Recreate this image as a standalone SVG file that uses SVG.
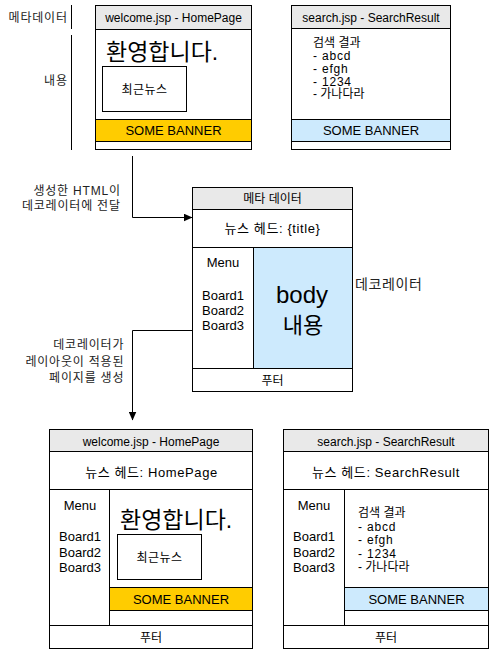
<svg xmlns="http://www.w3.org/2000/svg" width="491" height="654" viewBox="0 0 491 654">
<style>
text{font-family:"Liberation Sans","Noto Sans CJK KR",sans-serif;fill:#000;font-size:12px}
.c{text-anchor:middle}
.e{text-anchor:end}
.m{font-size:13px}
.big{font-size:23px}
.lbl{fill:#222}
.ks{letter-spacing:0.8px}
.nh{font-size:13px;letter-spacing:0.6px}
.box{fill:#fff;stroke:#000;stroke-width:1}
.hd{fill:#e9e9e9;stroke:#000;stroke-width:1}
.yb{fill:#ffcc00;stroke:#000;stroke-width:1}
.bb{fill:#cdeafd;stroke:#000;stroke-width:1}
.ln{stroke:#000;stroke-width:1;fill:none}
</style>
<defs>
<marker id="ah" markerWidth="9" markerHeight="8" refX="8.5" refY="4" orient="auto" markerUnits="userSpaceOnUse">
<path d="M0,0 L9,4 L0,8 Z" fill="#000"/>
</marker>
</defs>

<g id="labels-left">
<line class="ln" x1="71.5" y1="5" x2="71.5" y2="29"/>
<line class="ln" x1="71.5" y1="35" x2="71.5" y2="150"/>
<text class="e lbl ks" x="67.8" y="21.5">메타데이터</text>
<text class="e lbl ks" x="67.8" y="84.5">내용</text>
</g>

<g id="welcome-page">
<rect class="box" x="95.5" y="5.5" width="156" height="144"/>
<rect class="hd" x="95.5" y="5.5" width="156" height="24"/>
<rect class="yb" x="95.5" y="119.5" width="156" height="22"/>
<rect class="box" x="102.5" y="66.5" width="84" height="45"/>
<text class="c" x="173.5" y="21.5">welcome.jsp - HomePage</text>
<text class="big" x="106" y="60">환영합니다.</text>
<text class="c" x="144.5" y="93.5" style="letter-spacing:0.5px">최근뉴스</text>
<text class="c m" x="173.5" y="135">SOME BANNER</text>
</g>

<g id="search-page">
<rect class="box" x="291.5" y="5.5" width="159" height="144"/>
<rect class="hd" x="291.5" y="5.5" width="159" height="23"/>
<rect class="bb" x="291.5" y="119.5" width="159" height="22"/>
<text class="c" x="371" y="21.5">search.jsp - SearchResult</text>
<text x="313" y="47">검색 결과</text>
<text x="313" y="60" style="letter-spacing:0.8px">- abcd</text>
<text x="313" y="73" style="letter-spacing:0.8px">- efgh</text>
<text x="313" y="85.5" style="letter-spacing:0.8px">- 1234</text>
<text x="313" y="98">- 가나다라</text>
<text class="c m" x="371" y="135">SOME BANNER</text>
</g>

<g id="decorator">
<rect class="box" x="192.5" y="187.5" width="160" height="204"/>
<rect class="hd" x="192.5" y="187.5" width="160" height="22"/>
<line class="ln" x1="192.5" y1="247.5" x2="352.5" y2="247.5"/>
<rect class="bb" x="253.5" y="247.5" width="99" height="121"/>
<line class="ln" x1="192.5" y1="368.5" x2="352.5" y2="368.5"/>
<text class="c" x="272.5" y="203">메타 데이터</text>
<text class="c nh" x="272.5" y="233">뉴스 헤드: {title}</text>
<text class="c m" x="223" y="267">Menu</text>
<text class="c m" x="223" y="299.5">Board1</text>
<text class="c m" x="223" y="314.5">Board2</text>
<text class="c m" x="223" y="330">Board3</text>
<text class="c" x="302" y="303" style="font-size:24px">body</text>
<text class="c" x="303" y="332.5" style="font-size:22px">내용</text>
<text class="c" x="272.5" y="385">푸터</text>
<text class="lbl" x="355" y="289" style="font-size:14px;letter-spacing:0.6px">데코레이터</text>
</g>

<g id="result-home">
<rect class="box" x="49.5" y="429.5" width="203" height="219"/>
<rect class="hd" x="49.5" y="429.5" width="203" height="22"/>
<line class="ln" x1="49.5" y1="489.5" x2="252.5" y2="489.5"/>
<line class="ln" x1="109.5" y1="489.5" x2="109.5" y2="625.5"/>
<rect class="yb" x="109.5" y="587.5" width="143" height="23"/>
<line class="ln" x1="49.5" y1="625.5" x2="252.5" y2="625.5"/>
<rect class="box" x="117.5" y="534.5" width="84" height="45"/>
<text class="c" x="151" y="445.5">welcome.jsp - HomePage</text>
<text class="c nh" x="151.5" y="477">뉴스 헤드: HomePage</text>
<text class="c m" x="80" y="509.5">Menu</text>
<text class="c m" x="80" y="541">Board1</text>
<text class="c m" x="80" y="556.5">Board2</text>
<text class="c m" x="80" y="571.5">Board3</text>
<text class="big" x="120" y="528">환영합니다.</text>
<text class="c" x="159.5" y="561.5" style="letter-spacing:0.5px">최근뉴스</text>
<text class="c m" x="181" y="603.5">SOME BANNER</text>
<text class="c" x="151" y="641.5">푸터</text>
</g>

<g id="result-search">
<rect class="box" x="283.5" y="429.5" width="205" height="219"/>
<rect class="hd" x="283.5" y="429.5" width="205" height="22"/>
<line class="ln" x1="283.5" y1="489.5" x2="488.5" y2="489.5"/>
<line class="ln" x1="344.5" y1="489.5" x2="344.5" y2="625.5"/>
<rect class="bb" x="344.5" y="587.5" width="144" height="23"/>
<line class="ln" x1="283.5" y1="625.5" x2="488.5" y2="625.5"/>
<text class="c" x="386" y="445.5">search.jsp - SearchResult</text>
<text class="c nh" x="386" y="477">뉴스 헤드: SearchResult</text>
<text class="c m" x="314" y="509.5">Menu</text>
<text class="c m" x="314" y="541">Board1</text>
<text class="c m" x="314" y="556.5">Board2</text>
<text class="c m" x="314" y="571.5">Board3</text>
<text x="358" y="517">검색 결과</text>
<text x="358" y="530.5" style="letter-spacing:0.8px">- abcd</text>
<text x="358" y="544" style="letter-spacing:0.8px">- efgh</text>
<text x="358" y="557.5" style="letter-spacing:0.8px">- 1234</text>
<text x="358" y="571">- 가나다라</text>
<text class="c m" x="416.5" y="603.5">SOME BANNER</text>
<text class="c" x="386" y="641.5">푸터</text>
</g>

<g id="connectors">
<path class="ln" d="M132.5,156 L132.5,217.5 L192,217.5" marker-end="url(#ah)"/>
<path class="ln" d="M192.5,330.5 L132.5,330.5 L132.5,420" marker-end="url(#ah)"/>
<text class="e lbl ks" x="120.8" y="195">생성한 HTML이</text>
<text class="e lbl ks" x="120.8" y="209.5">데코레이터에 전달</text>
<text class="e lbl ks" x="124.3" y="349">데코레이터가</text>
<text class="e lbl ks" x="124.3" y="365.5">레이아웃이 적용된</text>
<text class="e lbl ks" x="124.3" y="382">페이지를 생성</text>
</g>
</svg>
